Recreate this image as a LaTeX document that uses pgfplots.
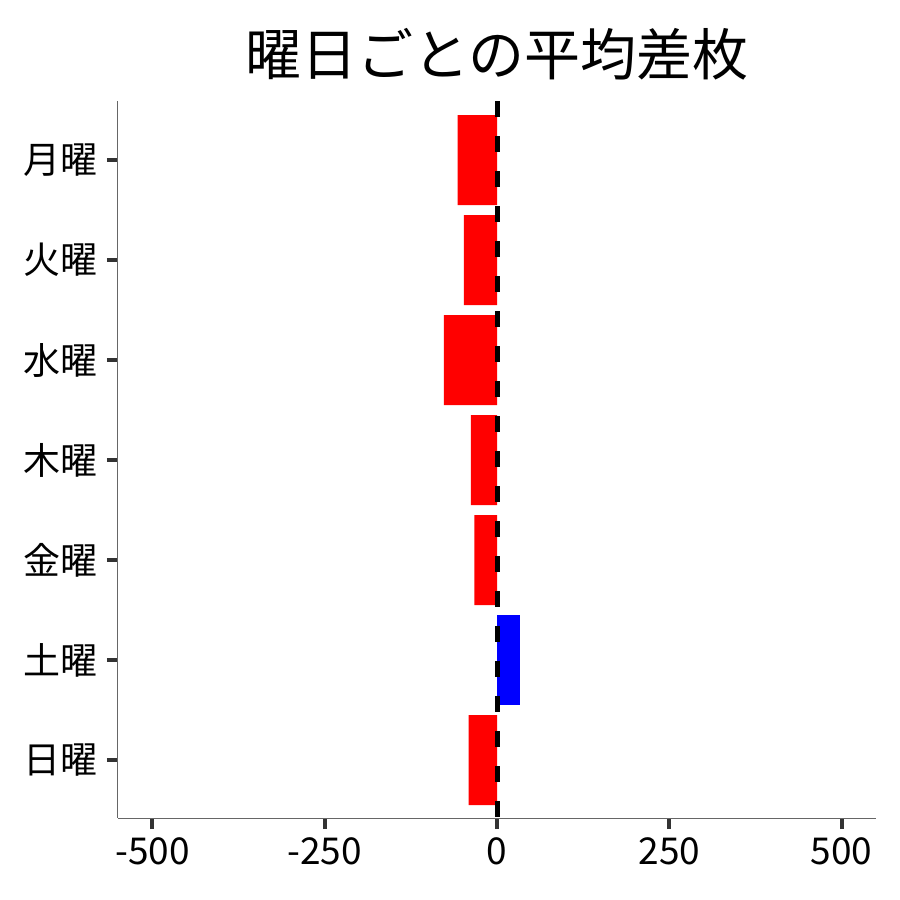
\documentclass[border=0pt]{standalone}
\usepackage{fontspec}
\setmainfont{Noto Sans CJK JP}
\usepackage{pgfplots}
\pgfplotsset{compat=1.18}

\begin{document}
\begin{tikzpicture}
\path[use as bounding box] (-59pt,-41pt) rectangle (391pt,409pt);
\begin{axis}[
    at={(0,0)}, anchor=south west,
    scale only axis,
    width=379pt, height=358.5pt,
    xmin=-550, xmax=550,
    ymin=-0.59, ymax=6.58,
    y dir=reverse,
    xtick={-500,-250,0,250,500},
    ytick={0,1,2,3,4,5,6},
    yticklabels={月曜,火曜,水曜,木曜,金曜,土曜,日曜},
    axis x line*=bottom, axis y line*=left,
    axis line style={color=black!60, line width=0.5pt},
    tick align=outside,
    major tick length=5.5pt,
    every tick/.append style={color=black!80, line width=2pt},
    ticklabel style={font=\fontsize{18.5}{22}\selectfont},
    /pgf/number format/assume math mode=true,
    /pgf/number format/1000 sep={},
    xticklabel style={yshift=-1pt},
    yticklabel style={xshift=-1pt},
    title={曜日ごとの平均差枚},
    title style={font=\fontsize{28}{33}\selectfont, yshift=1pt},
]
\addplot[xbar, bar width=0.9, bar shift=0pt, fill=red, draw=none] coordinates {
    (-57,0) (-48,1) (-77,2) (-38,3) (-33,4) (-41,6)
};
\addplot[xbar, bar width=0.9, bar shift=0pt, fill=blue, draw=none] coordinates {
    (34,5)
};
\addplot[sharp plot, black, line width=2.5pt, dash pattern=on 8pt off 9.5pt, mark=none]
    coordinates {(0,-0.59) (0,6.7)};
\end{axis}
\end{tikzpicture}
\end{document}
